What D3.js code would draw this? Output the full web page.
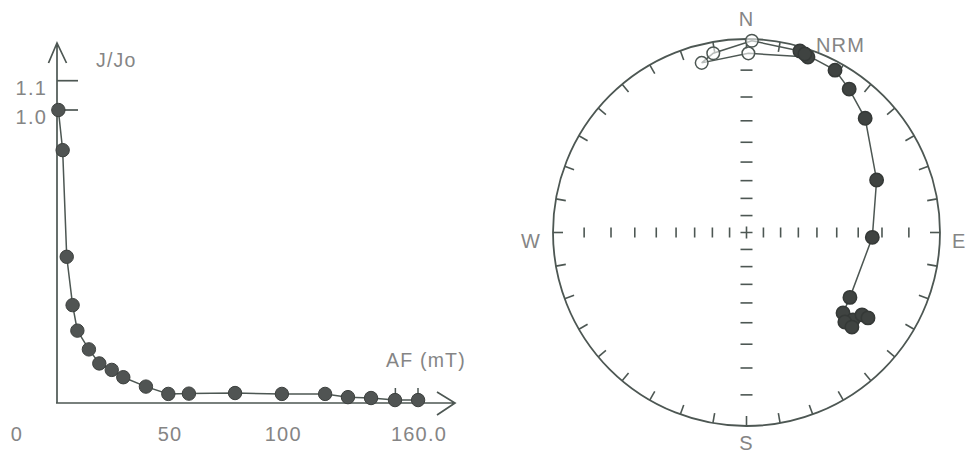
<!DOCTYPE html>
<html>
<head>
<meta charset="utf-8">
<script src="https://cdn.jsdelivr.net/npm/d3@7"></script>
<style>
  body { margin: 0; background: #fff; }
  text { font-family: "Liberation Sans", Arial, sans-serif; fill: #858585; letter-spacing: 1.2px; }
</style>
</head>
<body>
<script>
// demagnetization curve (AF step in mT, J/Jo)
const afSteps = [0.6, 2.5, 4.3, 6.9, 9.0, 14.1, 18.7, 24.2, 29.3, 39.3, 49.2, 58.3, 78.7, 99.4, 118.5, 128.6, 138.8, 149.4, 159.6];
const jRatio  = [1.0, 0.863, 0.499, 0.334, 0.247, 0.183, 0.135, 0.113, 0.088, 0.056, 0.031, 0.032, 0.034, 0.031, 0.031, 0.020, 0.017, 0.010, 0.010];
const yTicks = [1.0, 1.1];
const xLabels = [0, 50, 100, 160];
const xMarks = [150, 160];

// stereonet path: declination / inclination (negative = upper hemisphere, open)
const decl = [19.3, 0.6, 345.2, 349.5, 1.6, 16.4, 18.1, 28.6, 35.6, 46.1, 68.0, 92.2, 122.1, 129.8, 129.4, 132.3, 131.9, 125.5, 125.1];
const incl = [2.3, -4.4, -5.6, -3.4, -0.5, 1.3, 1.7, 2.6, 5.3, 9.2, 18.1, 23.9, 25.5, 24.0, 19.1, 21.0, 17.6, 17.5, 15.0];
const incTicks = [10, 20, 30, 40, 50, 60, 70, 80];
const compass = [["N", 0], ["E", 90], ["S", 180], ["W", 270]];

const ink = "#4d5753";

let svg = d3.select("body")
            .append("svg")
            .attr("width", 966)
            .attr("height", 455);

// ---------- left: J/Jo vs AF ----------
let x = d3.scaleLinear([0, 160], [57, 419]);
let y = d3.scaleLinear([0, 1], [403, 110]);

let left = svg.append("g");

// axes with open arrow heads
left.append("path")
    .attr("d", `M${x(0)},${y(0)}V43 M${x(0) - 8.5},63 L${x(0)},43 L${x(0) + 9.5},63`)
    .attr("fill", "none").attr("stroke", ink).attr("stroke-width", 1.7);
left.append("path")
    .attr("d", `M${x(0) - 1},${y(0)}H455 M437,392 L455,${y(0)} L437,415`)
    .attr("fill", "none").attr("stroke", ink).attr("stroke-width", 1.7);

left.selectAll(".ytick")
    .data(yTicks)
    .enter()
    .append("line")
    .attr("x1", x(0)).attr("x2", x(0) + 21)
    .attr("y1", d => y(d)).attr("y2", d => y(d))
    .attr("stroke", ink).attr("stroke-width", 1.7);
left.selectAll(".ylabel")
    .data(yTicks)
    .enter()
    .append("text")
    .attr("x", 47)
    .attr("y", d => y(d) + 14)
    .attr("text-anchor", "end")
    .attr("font-size", 20)
    .text(d => d.toFixed(1));

left.selectAll(".xmark")
    .data(xMarks)
    .enter()
    .append("line")
    .attr("x1", d => x(d) - 1).attr("x2", d => x(d) - 1)
    .attr("y1", y(0)).attr("y2", y(0) - 15)
    .attr("stroke", ink).attr("stroke-width", 1.5);

left.selectAll(".xlabel")
    .data(xLabels)
    .enter()
    .append("text")
    .attr("x", d => d == 0 ? x(d) - 40 : x(d))
    .attr("y", 441)
    .attr("text-anchor", "middle")
    .attr("font-size", 20)
    .text(d => d == 160 ? "160.0" : d);

left.append("text").attr("x", 96).attr("y", 67).attr("font-size", 19.5).text("J/Jo");
left.append("text").attr("x", 386).attr("y", 367).attr("font-size", 19.5).text("AF (mT)");

let curve = afSteps.map((a, i) => [x(a), y(jRatio[i])]);
left.append("path")
    .attr("d", d3.line()(curve))
    .attr("fill", "none").attr("stroke", ink).attr("stroke-width", 1.5);
left.selectAll("circle")
    .data(curve)
    .enter()
    .append("circle")
    .attr("cx", d => d[0]).attr("cy", d => d[1])
    .attr("r", 6.7)
    .attr("fill", "#505453").attr("stroke", "#3c403e").attr("stroke-width", 1);

// ---------- right: stereographic net ----------
const R = 193.5, cx = 746.5, cy = 232.5;
const rScale = d3.scaleLinear([0, 1], [0, R]);
const rad = d => d * Math.PI / 180;
const proj = (dec, inc) => {
    let r = rScale(Math.tan(rad(90 - Math.abs(inc)) / 2));
    return [cx + r * Math.sin(rad(dec)), cy - r * Math.cos(rad(dec))];
};

let net = svg.append("g");
net.append("circle")
   .attr("cx", cx).attr("cy", cy).attr("r", R)
   .attr("fill", "none").attr("stroke", ink).attr("stroke-width", 1.8);

net.selectAll(".rim")
   .data(d3.range(0, 360, 10))
   .enter()
   .append("line")
   .attr("x1", d => cx + R * Math.sin(rad(d)))
   .attr("y1", d => cy - R * Math.cos(rad(d)))
   .attr("x2", d => cx + (R - 10) * Math.sin(rad(d)))
   .attr("y2", d => cy - (R - 10) * Math.cos(rad(d)))
   .attr("stroke", ink).attr("stroke-width", 1.6);

// E-W axis ticks (vertical) and N-S axis ticks (horizontal)
[90, 270].forEach(dec => {
    net.selectAll(null)
       .data(incTicks)
       .enter()
       .append("line")
       .attr("x1", d => proj(dec, d)[0]).attr("x2", d => proj(dec, d)[0])
       .attr("y1", d => proj(dec, d)[1] - 5).attr("y2", d => proj(dec, d)[1] + 5)
       .attr("stroke", ink).attr("stroke-width", 1.6);
});
[0, 180].forEach(dec => {
    net.selectAll(null)
       .data(incTicks)
       .enter()
       .append("line")
       .attr("x1", d => proj(dec, d)[0] - 6).attr("x2", d => proj(dec, d)[0] + 6)
       .attr("y1", d => proj(dec, d)[1]).attr("y2", d => proj(dec, d)[1])
       .attr("stroke", ink).attr("stroke-width", 1.6);
});
net.append("path")
   .attr("d", `M${cx - 6},${cy}H${cx + 6} M${cx},${cy - 6}V${cy + 6}`)
   .attr("stroke", ink).attr("stroke-width", 1.6);

net.selectAll(".dir")
   .data(compass)
   .enter()
   .append("text")
   .attr("x", d => d[1] == 90 ? cx + R + 12 : d[1] == 270 ? cx - R - 12 : cx)
   .attr("y", d => d[1] == 0 ? 26 : d[1] == 180 ? 450 : cy + 15)
   .attr("text-anchor", d => d[1] == 90 ? "start" : d[1] == 270 ? "end" : "middle")
   .attr("font-size", 20)
   .text(d => d[0]);

let pts = decl.map((d, i) => proj(d, incl[i]));
net.append("path")
   .attr("d", d3.line()(pts))
   .attr("fill", "none").attr("stroke", ink).attr("stroke-width", 1.5);

net.selectAll(".pt")
   .data(pts)
   .enter()
   .append("circle")
   .attr("cx", d => d[0]).attr("cy", d => d[1])
   .attr("r", (d, i) => incl[i] < 0 ? 6.3 : 6.7)
   .attr("fill", (d, i) => incl[i] < 0 ? "white" : "#3f4341")
   .attr("fill-opacity", (d, i) => incl[i] < 0 ? 0.6 : 1)
   .attr("stroke", (d, i) => incl[i] < 0 ? ink : "#353937")
   .attr("stroke-width", 1.5);

net.append("text")
   .attr("x", proj(decl[5], incl[5])[0] + 16)
   .attr("y", 51.5)
   .attr("font-size", 20)
   .text("NRM");
</script>
</body>
</html>
